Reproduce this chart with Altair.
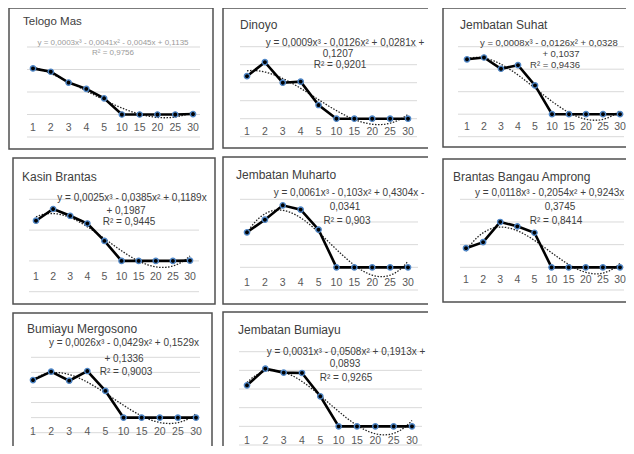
import altair as alt
import pandas as pd

# ---------------- data ----------------
x_labels = ["1", "2", "3", "4", "5", "10", "15", "20", "25", "30"]

titles = ["Telogo Mas", "Dinoyo", "Jembatan Suhat", "Kasin Brantas",
          "Jembatan Muharto", "Brantas Bangau Amprong", "Bumiayu Mergosono",
          "Jembatan Bumiayu"]

telogo_mas = [0.1025, 0.095, 0.071, 0.057, 0.036, 0.0, 0.0, 0.0, 0.0, 0.001]
dinoyo = [0.118, 0.157, 0.100, 0.103, 0.038, 0.0, 0.0, 0.0, 0.0, 0.0]
jembatan_suhat = [0.122, 0.126, 0.101, 0.109, 0.064, 0.0, 0.0, 0.0, 0.0, 0.0]
kasin_brantas = [0.261, 0.337, 0.293, 0.243, 0.130, 0.0, 0.0, 0.0, 0.0, 0.002]
jembatan_muharto = [0.309, 0.420, 0.547, 0.509, 0.332, 0.0, 0.0, 0.0, 0.0, 0.0]
brantas_bangau_amprong = [0.338, 0.444, 0.800, 0.723, 0.610, 0.0, 0.0, 0.0, 0.0, 0.0]
bumiayu_mergosono = [0.249, 0.305, 0.245, 0.309, 0.177, 0.0, 0.0, 0.0, 0.0, 0.0]
jembatan_bumiayu = [0.220, 0.309, 0.288, 0.286, 0.161, 0.0, 0.0, 0.0, 0.0, 0.0]

eq_telogo = ["y = 0,0003x³ - 0,0041x² - 0,0045x + 0,1135", "R² = 0,9756"]
eq_dinoyo = ["y = 0,0009x³ - 0,0126x² + 0,0281x +", "0,1207", "R² = 0,9201"]
eq_suhat = ["y = 0,0008x³ - 0,0126x² + 0,0328", "+ 0,1037", "R² = 0,9436"]
eq_kasin = ["y = 0,0025x³ - 0,0385x² + 0,1189x", "+ 0,1987", "R² = 0,9445"]
eq_muharto = ["y = 0,0061x³ - 0,103x² + 0,4304x -", "0,0341", "R² = 0,903"]
eq_bangau = ["y = 0,0118x³ - 0,2054x² + 0,9243x", "0,3745", "R² = 0,8414"]
eq_bumiayu = ["y = 0,0026x³ - 0,0429x² + 0,1529x", "+ 0,1336", "R² = 0,9003"]
eq_jbumiayu = ["y = 0,0031x³ - 0,0508x² + 0,1913x +", "0,0893", "R² = 0,9265"]

grid_telogo = [-0.05, 0.0, 0.05, 0.10, 0.15]
grid_dinoyo = [-0.05, 0.0, 0.05, 0.10, 0.15, 0.20]
grid_suhat = [-0.05, 0.0, 0.05, 0.10, 0.15]
grid_kasin = [-0.2, 0.0, 0.2, 0.4]
grid_muharto = [-0.2, 0.0, 0.2, 0.4, 0.6]
grid_bangau = [-0.4, 0.0, 0.4, 0.8, 1.2]
grid_bumiayu = [-0.1, 0.0, 0.1, 0.2, 0.3, 0.4]
grid_jbumiayu = [-0.1, 0.0, 0.1, 0.2, 0.3, 0.4]

# ---------------- layout (absolute page pixels) ----------------
COL_X = [8, 218, 428]
COL_W = [210, 210, 198]
ROW_Y = [8, 155, 309]
ROW_H = [147, 154, 137]

FONT = "Liberation Sans"

panels = [
    dict(title=titles[0], vals=telogo_mas, eq=eq_telogo, grid=grid_telogo, cell=(0, 0),
         box=(9, 8, 213, 149), pts=(33, 193), gx=(27, 200), gy=(137, 47), laby=128,
         tpos=(23, 22), tsize=11.5, eqsize=8, eqcolor="#9a9a9a",
         eqpos=[(113, 43, "center"), (113, 52.5, "center")]),
    dict(title=titles[1], vals=dinoyo, eq=eq_dinoyo, grid=grid_dinoyo, cell=(0, 1),
         box=(223, 8, 430, 148), pts=(247, 408), gx=(240, 417), gy=(136.7, 46.7), laby=132,
         tpos=(240, 25), tsize=12, eqsize=10, eqcolor="#404040",
         eqpos=[(345, 43.3, "center"), (338, 54.3, "center"), (340, 65, "center")]),
    dict(title=titles[2], vals=jembatan_suhat, eq=eq_suhat, grid=grid_suhat, cell=(0, 2),
         box=(443, 8, 660, 147), pts=(467, 620), gx=(458, 624), gy=(136.7, 46.7), laby=126.7,
         tpos=(460, 25), tsize=12, eqsize=9.5, eqcolor="#404040",
         eqpos=[(480, 43, "left"), (561, 54, "center"), (555, 64.5, "center")]),
    dict(title=titles[3], vals=kasin_brantas, eq=eq_kasin, grid=grid_kasin, cell=(1, 0),
         box=(13, 158, 215, 304), pts=(36, 190), gx=(29, 199), gy=(291.7, 199.3), laby=276.7,
         tpos=(22, 177), tsize=12, eqsize=10, eqcolor="#404040",
         eqpos=[(132, 197.7, "center"), (126, 210.7, "center"), (129, 222, "center")]),
    dict(title=titles[4], vals=jembatan_muharto, eq=eq_muharto, grid=grid_muharto, cell=(1, 1),
         box=(223, 157, 433, 304), pts=(247, 408), gx=(240, 418), gy=(290, 199.3), laby=282.7,
         tpos=(236, 175), tsize=12, eqsize=10, eqcolor="#404040",
         eqpos=[(349, 193.3, "center"), (345, 206.7, "center"), (347, 221, "center")]),
    dict(title=titles[5], vals=brantas_bangau_amprong, eq=eq_bangau, grid=grid_bangau, cell=(1, 2),
         box=(443, 159, 660, 302), pts=(466, 620), gx=(460, 624), gy=(290, 199.3), laby=280,
         tpos=(453, 177), tsize=12, eqsize=10, eqcolor="#404040",
         eqpos=[(475, 193.3, "left"), (560, 206.7, "center"), (556, 221, "center")]),
    dict(title=titles[6], vals=bumiayu_mergosono, eq=eq_bumiayu, grid=grid_bumiayu, cell=(2, 0),
         box=(13, 313, 212, 470), pts=(33, 196), gx=(31, 200), gy=(432.7, 357.3), laby=431.7,
         tpos=(27, 329), tsize=12, eqsize=10, eqcolor="#404040",
         eqpos=[(124, 343.3, "center"), (124, 359.3, "center"), (126, 371.7, "center")]),
    dict(title=titles[7], vals=jembatan_bumiayu, eq=eq_jbumiayu, grid=grid_jbumiayu, cell=(2, 1),
         box=(223, 312, 436, 470), pts=(247, 412), gx=(239, 422), gy=(445, 351.7), laby=440.7,
         tpos=(238, 330), tsize=12, eqsize=10, eqcolor="#404040",
         eqpos=[(346, 351.7, "center"), (345, 364.3, "center"), (346, 378.3, "center")]),
]


def one(d):
    return pd.DataFrame([d])


def make_panel(p):
    r, c = p["cell"]
    ox, oy = COL_X[c], ROW_Y[r]
    W, H = COL_W[c], ROW_H[r]
    rx = lambda v: v - ox
    ry = lambda v: v - oy

    df = pd.DataFrame({"i": list(range(1, 11)), "v": p["vals"], "lab": x_labels})
    gdf = pd.DataFrame({"v": p["grid"]})

    xs = alt.Scale(domain=[1, 10], range=[rx(p["pts"][0]), rx(p["pts"][1])], nice=False, zero=False)
    ys = alt.Scale(domain=[min(p["grid"]), max(p["grid"])],
                   range=[ry(p["gy"][0]), ry(p["gy"][1])], nice=False, zero=False)
    X = alt.X("i:Q", scale=xs, axis=None)
    Y = alt.Y("v:Q", scale=ys, axis=None)

    bx1, by1, bx2, by2 = p["box"]
    box = alt.Chart(one({"k": 1})).mark_rect(
        fill="white", fillOpacity=0, stroke="#505050", strokeWidth=1.5, clip=True
    ).encode(x=alt.value(rx(bx1)), x2=alt.value(rx(bx2)),
             y=alt.value(ry(by1)), y2=alt.value(ry(by2)))

    grid = alt.Chart(gdf).mark_rule(color="#d9d9d9", strokeWidth=1).encode(
        y=Y, x=alt.value(rx(p["gx"][0])), x2=alt.value(rx(p["gx"][1])))

    trend = alt.Chart(df).transform_regression(
        "i", "v", method="poly", order=3
    ).mark_line(color="#222222", strokeWidth=1.3, strokeDash=[1.5, 1.5]).encode(x=X, y=Y)

    line = alt.Chart(df).mark_line(color="black", strokeWidth=2.6).encode(x=X, y=Y)

    pts = alt.Chart(df).mark_circle(
        color="black", stroke="#4f86c6", strokeWidth=1.4, size=28, opacity=1
    ).encode(x=X, y=Y)

    labels = alt.Chart(df).mark_text(
        font=FONT, fontSize=10.5, color="#595959", baseline="middle", align="center"
    ).encode(x=X, y=alt.value(ry(p["laby"])), text="lab:N")

    title = alt.Chart(one({"t": p["title"]})).mark_text(
        font=FONT, fontSize=p["tsize"], color="#404040", align="left", baseline="middle"
    ).encode(x=alt.value(rx(p["tpos"][0])), y=alt.value(ry(p["tpos"][1])), text="t:N")

    eqs = []
    for txt, (ex, ey, al) in zip(p["eq"], p["eqpos"]):
        eqs.append(alt.Chart(one({"t": txt})).mark_text(
            font=FONT, fontSize=p["eqsize"], color=p["eqcolor"], align=al, baseline="middle"
        ).encode(x=alt.value(rx(ex)), y=alt.value(ry(ey)), text="t:N"))

    return alt.layer(box, grid, trend, line, pts, labels, title, *eqs).properties(width=W, height=H)


cells = [make_panel(p) for p in panels]

chart = alt.concat(*cells, columns=3, spacing=0, bounds="flush", align="each").properties(
    padding=0, background="white"
).configure_view(strokeWidth=0)

chart.save("out.html", embed_options={"renderer": "svg", "actions": False})
